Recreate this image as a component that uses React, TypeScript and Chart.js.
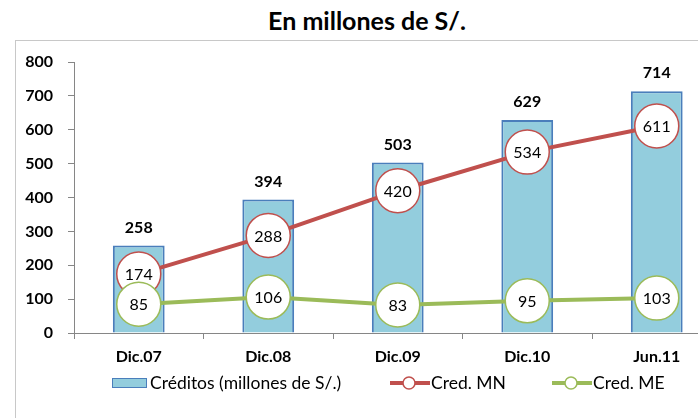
import React, { useEffect, useRef } from "react";
import { Chart, registerables } from "chart.js";

Chart.register(...registerables);

const categories = ["Dic.07", "Dic.08", "Dic.09", "Dic.10", "Jun.11"];
const creditos = [258, 394, 503, 629, 714];
const credMN = [174, 288, 420, 534, 611];
const credME = [85, 106, 83, 95, 103];
const seriesNames = ["Créditos (millones de S/.)", "Cred. MN", "Cred. ME"];
const yMin = 0;
const yMax = 800;
const yStep = 100;
const subtitle = "En millones de S/.";

const BAR_FILL = "#93CDDD";
const BAR_BORDER = "#4A7EBB";
const RED = "#C0504D";
const GREEN = "#9BBB59";
const AXIS = "#868686";
const FONT = "Lato, 'Open Sans', sans-serif";
const CANVAS_W = 745;

const valueLabels = {
  id: "valueLabels",
  afterDatasetsDraw(chart: any) {
    const ctx = chart.ctx;
    chart.data.datasets.forEach((ds: any, i: number) => {
      const meta = chart.getDatasetMeta(i);
      meta.data.forEach((el: any, j: number) => {
        const v = ds.data[j];
        ctx.save();
        ctx.fillStyle = "#000";
        ctx.textAlign = "center";
        ctx.textBaseline = "middle";
        if (ds.type === "bar") {
          ctx.font = `bold 16px ${FONT}`;
          ctx.fillText(String(v), el.x, el.y - 18);
        } else {
          ctx.font = `16px ${FONT}`;
          ctx.fillText(String(v), el.x, el.y + 1);
        }
        ctx.restore();
      });
    });
  },
};

const customLegend = {
  id: "customLegend",
  afterDraw(chart: any) {
    const ctx = chart.ctx;
    const y = 383;
    ctx.save();
    ctx.font = `17.5px ${FONT}`;
    ctx.textBaseline = "middle";
    ctx.textAlign = "left";
    // bar swatch
    ctx.fillStyle = BAR_FILL;
    ctx.fillRect(112, 378, 35, 10);
    ctx.strokeStyle = BAR_BORDER;
    ctx.lineWidth = 1;
    ctx.strokeRect(112.5, 378.5, 34, 9);
    ctx.fillStyle = "#000";
    ctx.fillText(seriesNames[0], 150, y);
    const lineItem = (x0: number, color: string, label: string) => {
      ctx.strokeStyle = color;
      ctx.lineWidth = 4;
      ctx.beginPath();
      ctx.moveTo(x0, y);
      ctx.lineTo(x0 + 40, y);
      ctx.stroke();
      ctx.beginPath();
      ctx.arc(x0 + 19, y, 6, 0, Math.PI * 2);
      ctx.fillStyle = "#fff";
      ctx.fill();
      ctx.lineWidth = 1.5;
      ctx.stroke();
      ctx.fillStyle = "#000";
      ctx.fillText(label, x0 + 41, y);
    };
    lineItem(390, RED, seriesNames[1]);
    lineItem(552, GREEN, seriesNames[2]);
    ctx.restore();
  },
};

export default function App() {
  const ref = useRef<HTMLCanvasElement>(null);
  useEffect(() => {
    if (!ref.current) return;
    const tickFont = { family: FONT, size: 16, weight: "bold" as const };
    const chart = new Chart(ref.current, {
      type: "bar",
      data: {
        labels: categories,
        datasets: [
          {
            type: "bar",
            label: seriesNames[0],
            data: creditos,
            backgroundColor: BAR_FILL,
            borderColor: BAR_BORDER,
            borderWidth: 2,
            barPercentage: 0.4,
            categoryPercentage: 1,
            order: 3,
          } as any,
          {
            type: "line",
            label: seriesNames[1],
            data: credMN,
            borderColor: RED,
            borderWidth: 4,
            pointRadius: 22,
            pointBackgroundColor: "#fff",
            pointBorderColor: RED,
            pointBorderWidth: 1.5,
            tension: 0,
            order: 2,
            clip: false,
          } as any,
          {
            type: "line",
            label: seriesNames[2],
            data: credME,
            borderColor: GREEN,
            borderWidth: 4,
            pointRadius: 22,
            pointBackgroundColor: "#fff",
            pointBorderColor: GREEN,
            pointBorderWidth: 1.5,
            tension: 0,
            order: 1,
            clip: false,
          } as any,
        ],
      },
      options: {
        animation: false,
        responsive: false,
        maintainAspectRatio: false,
        layout: { padding: { left: 0, top: 62, right: 8, bottom: 45 } },
        plugins: {
          legend: { display: false },
          tooltip: { enabled: false },
          title: { display: false },
        },
        scales: {
          x: {
            offset: true,
            grid: {
              display: true,
              drawOnChartArea: false,
              drawTicks: true,
              tickLength: 6,
              color: AXIS,
              offset: true,
            },
            border: { color: AXIS, width: 1 },
            ticks: {
              font: tickFont,
              color: "#000",
              padding: 8,
              maxRotation: 0,
              autoSkip: false,
            },
            afterFit: (s: any) => {
              s.height = 40;
            },
          },
          y: {
            min: yMin,
            max: yMax,
            ticks: { stepSize: yStep, font: tickFont, color: "#000", padding: 15 },
            grid: {
              display: true,
              drawOnChartArea: false,
              drawTicks: true,
              tickLength: 6,
              color: AXIS,
            },
            border: { color: AXIS, width: 1 },
            afterFit: (s: any) => {
              s.width = 74;
            },
          },
        },
      },
      plugins: [valueLabels, customLegend],
    });
    return () => chart.destroy();
  }, []);

  return (
    <div
      style={{
        position: "absolute",
        left: 0,
        top: 0,
        width: 698,
        height: 418,
        overflow: "hidden",
        background: "#fff",
      }}
    >
      <div
        style={{
          position: "absolute",
          left: 15,
          top: 40,
          width: 900,
          height: 600,
          border: "1.5px solid #c8c8c8",
        }}
      />
      <div
        style={{
          position: "absolute",
          left: 0,
          top: 5,
          width: 734,
          textAlign: "center",
          fontFamily: FONT,
          fontWeight: "bold",
          fontSize: 25,
          lineHeight: "30px",
          color: "#000",
        }}
      >
        {subtitle}
      </div>
      <canvas
        ref={ref}
        width={CANVAS_W}
        height={418}
        style={{ position: "absolute", left: 0, top: 0, width: CANVAS_W, height: 418 }}
      />
    </div>
  );
}
